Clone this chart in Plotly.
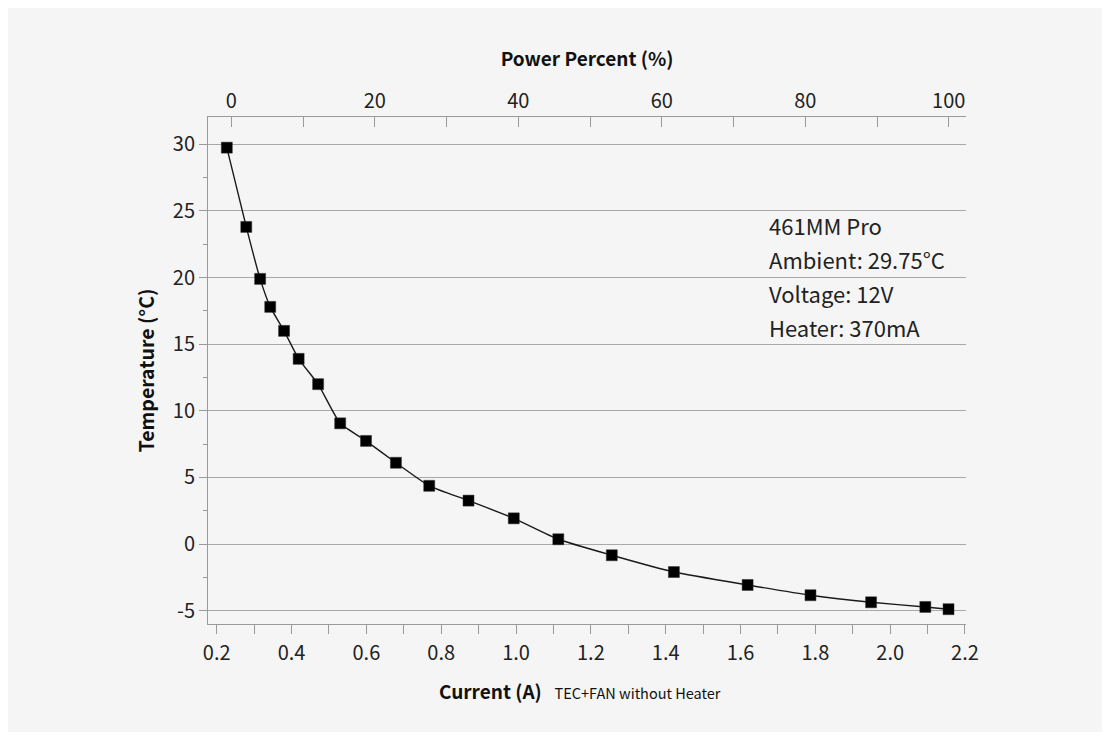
import plotly.graph_objects as go

# Data
current_a = [0.227, 0.279, 0.316, 0.343, 0.380, 0.419, 0.471, 0.530, 0.599, 0.679,
             0.768, 0.873, 0.994, 1.113, 1.256, 1.422, 1.619, 1.787, 1.949, 2.094, 2.156]
temperature_c = [29.75, 23.8, 19.9, 17.8, 16.0, 13.9, 12.0, 9.06, 7.74, 6.1,
                 4.37, 3.26, 1.93, 0.36, -0.84, -2.10, -3.07, -3.84, -4.37, -4.72, -4.89]
power_ticks = [0, 20, 40, 60, 80, 100]
current_ticks = [0.2, 0.4, 0.6, 0.8, 1.0, 1.2, 1.4, 1.6, 1.8, 2.0, 2.2]
current_tick_text = ["0.2", "0.4", "0.6", "0.8", "1.0", "1.2", "1.4", "1.6", "1.8", "2.0", "2.2"]
temp_ticks = [-5, 0, 5, 10, 15, 20, 25, 30]
temp_tick_text = ["-5", "0", "5", "10", "15", "20", "25", "30"]
info_lines = ["461MM Pro", "Ambient: 29.75°C", "Voltage: 12V", "Heater: 370mA"]

FONT = "Noto Sans CJK SC"
BG = "#f5f5f5"
AXIS = "#9a9a9a"

# page has an 8px body margin; size the figure so the page fits the window
OFF = 8
W, H = 1094, 724
ML, MT = 208 - OFF, 117 - OFF
MR = OFF + W - 966
MB = OFF + H - 624
PW = W - ML - MR
PH = H - MT - MB


def px_x(px):
    return (px - OFF - ML) / PW


def px_y(py):
    return (MT + PH - (py - OFF)) / PH


fig = go.Figure()

fig.add_trace(go.Scatter(
    x=current_a, y=temperature_c, mode="lines+markers",
    line=dict(color="#1a1a1a", width=1.4, shape="spline", smoothing=0.5),
    marker=dict(symbol="square", size=11, color="#000000",
                line=dict(color="#333333", width=0.5)),
    showlegend=False, hoverinfo="x+y",
))
# invisible trace on the top axis so it is drawn
fig.add_trace(go.Scatter(
    x=power_ticks, y=[None] * len(power_ticks), xaxis="x2", mode="lines",
    showlegend=False, hoverinfo="skip",
))

fig.update_layout(
    width=W, height=H,
    margin=dict(l=ML, r=MR, t=MT, b=MB),
    paper_bgcolor=BG, plot_bgcolor=BG,
    font=dict(family=FONT, color="#222222", size=19),
    xaxis=dict(
        range=[0.1767, 2.2027], tickmode="array", tickvals=current_ticks,
        ticktext=current_tick_text,
        ticks="outside", ticklen=9, tickcolor=AXIS, tickwidth=1,
        minor=dict(dtick=0.1, tick0=0.2, ticks="outside", ticklen=9, tickcolor=AXIS, showgrid=False),
        showline=True, linecolor=AXIS, linewidth=1, showgrid=False, zeroline=False,
        tickfont=dict(size=20, family=FONT, color="#222222"),
        ticklabelstandoff=2,
    ),
    xaxis2=dict(
        overlaying="x", side="top", anchor="y",
        range=[-3.25, 102.4], tickmode="array", tickvals=power_ticks,
        ticks="inside", ticklen=10, tickcolor=AXIS, tickwidth=1,
        minor=dict(dtick=10, tick0=0, ticks="inside", ticklen=10, tickcolor=AXIS, showgrid=False),
        showline=True, linecolor=AXIS, linewidth=1, showgrid=False, zeroline=False,
        tickfont=dict(size=20, family=FONT, color="#222222"),
        title=dict(text="<b>Power Percent (%)</b>",
                   font=dict(size=19, family=FONT, color="#111111"), standoff=13),
    ),
    yaxis=dict(
        range=[-6.0, 32.05], tickmode="array", tickvals=temp_ticks, ticktext=temp_tick_text,
        ticks="outside", ticklen=8, tickcolor=AXIS, tickwidth=1,
        minor=dict(dtick=2.5, tick0=0, ticks="outside", ticklen=4, tickcolor=AXIS, showgrid=False),
        showline=True, linecolor=AXIS, linewidth=1,
        showgrid=True, gridcolor="#a8a8a8", gridwidth=1, zeroline=False,
        tickfont=dict(size=20, family=FONT, color="#222222"),
        title=dict(text="<b>Temperature (°C)</b>",
                   font=dict(size=19.5, family=FONT, color="#111111"), standoff=12),
    ),
)

# bottom axis title (slightly left of the plot centre, as in the original)
fig.add_annotation(
    text="<b>Current (A)</b>&nbsp;&nbsp;&nbsp;<span style='font-size:14.5px'>TEC+FAN without Heater</span>",
    xref="paper", yref="paper", x=px_x(580), y=px_y(690),
    xanchor="center", yanchor="middle", showarrow=False,
    font=dict(size=19, family=FONT, color="#111111"),
)

# info text block
line_y = [225, 259, 293, 327]
for txt, py in zip(info_lines, line_y):
    fig.add_annotation(
        text=txt, xref="paper", yref="paper",
        x=px_x(767), y=px_y(py),
        xanchor="left", yanchor="middle", showarrow=False,
        font=dict(size=22, family=FONT, color="#222222"),
    )

fig.write_html("out.html")
